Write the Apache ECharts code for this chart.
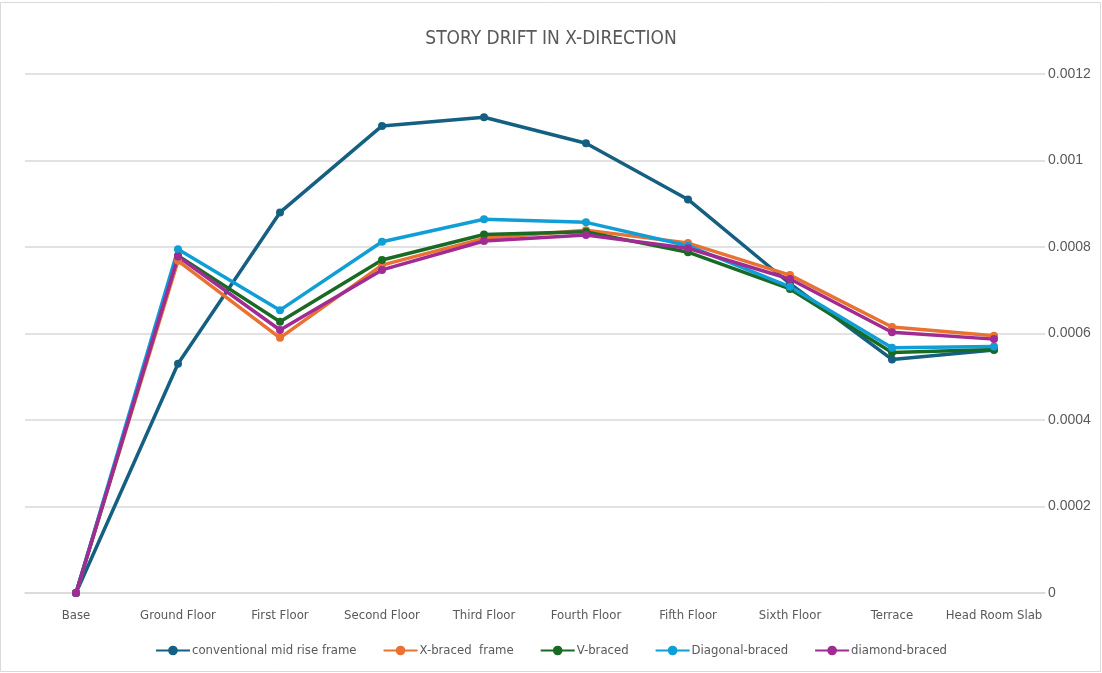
<!DOCTYPE html>
<html>
<head>
<meta charset="utf-8">
<script src="https://cdn.jsdelivr.net/npm/echarts@6/dist/echarts.min.js"></script>
<style>
  html, body { margin: 0; padding: 0; background: #ffffff; }
  #chart { width: 1102px; height: 673px; }
</style>
</head>
<body>
<div id="chart"></div>
<script>
// Story levels along the building height
const floors = ['Base', 'Ground Floor', 'First Floor', 'Second Floor', 'Third Floor',
  'Fourth Floor', 'Fifth Floor', 'Sixth Floor', 'Terrace', 'Head Room Slab'];

// Story drift per level for each framing system
const conventional = [0, 0.00053, 0.00088, 0.00108, 0.0011, 0.00104, 0.00091, 0.000715, 0.00054, 0.000562];
const xBraced      = [0, 0.000768, 0.00059, 0.000758, 0.00082, 0.000839, 0.000809, 0.000735, 0.000615, 0.000595];
const vBraced      = [0, 0.00078, 0.000627, 0.00077, 0.000829, 0.000835, 0.000788, 0.000703, 0.000556, 0.000563];
const diagonal     = [0, 0.000795, 0.000654, 0.000812, 0.000864, 0.000857, 0.000803, 0.000708, 0.000567, 0.00057];
const diamond      = [0, 0.000778, 0.000608, 0.000747, 0.000814, 0.000828, 0.000797, 0.000726, 0.000603, 0.000587];

const yTicks = { min: 0, max: 0.0012, step: 0.0002 };

const FONT = '"Liberation Sans Narrow", "DejaVu Sans Condensed", "Roboto", sans-serif';
const TEXT = '#595959';

function lineSeries(name, data, color) {
  return {
    name: name,
    type: 'line',
    data: data,
    symbol: 'circle',
    symbolSize: 8,
    lineStyle: { width: 3.5, color: color },
    itemStyle: { color: color },
    emphasis: { disabled: true }
  };
}

const chart = echarts.init(document.getElementById('chart'), null, { renderer: 'canvas' });
chart.setOption({
  animation: false,
  backgroundColor: '#ffffff',
  title: {
    text: 'STORY DRIFT IN X-DIRECTION',
    left: 'center',
    top: 25,
    textStyle: { fontFamily: FONT, fontSize: 19, fontWeight: 'normal', color: TEXT }
  },
  graphic: [{
    type: 'rect',
    shape: { x: 0.5, y: 2.5, width: 1100, height: 669 },
    style: { fill: 'none', stroke: '#d9d9d9', lineWidth: 1 },
    silent: true
  }],
  grid: { left: 25, right: 57, top: 74, bottom: 80 },
  legend: {
    bottom: 11,
    left: 'center',
    itemGap: 26,
    itemWidth: 34,
    itemHeight: 12,
    textStyle: { fontFamily: FONT, fontSize: 13, color: TEXT, padding: [0, 0, 0, -3] },
    data: ['conventional mid rise frame', 'X-braced  frame', 'V-braced', 'Diagonal-braced', 'diamond-braced']
  },
  xAxis: {
    type: 'category',
    data: floors,
    boundaryGap: true,
    axisLine: { show: true, lineStyle: { color: '#d9d9d9', width: 1.5 } },
    axisTick: { show: false },
    axisLabel: { fontFamily: FONT, fontSize: 13, color: TEXT, margin: 16, interval: 0 }
  },
  yAxis: {
    type: 'value',
    position: 'right',
    min: yTicks.min,
    max: yTicks.max,
    interval: yTicks.step,
    axisLine: { show: false },
    axisTick: { show: false },
    splitLine: { lineStyle: { color: '#d9d9d9', width: 1.5 } },
    axisLabel: {
      fontFamily: '"Liberation Sans", Arial, sans-serif',
      fontSize: 14,
      color: TEXT,
      margin: 3,
      formatter: v => String(+v.toFixed(4))
    }
  },
  series: [
    lineSeries('conventional mid rise frame', conventional, '#156082'),
    lineSeries('X-braced  frame', xBraced, '#E97132'),
    lineSeries('V-braced', vBraced, '#196B24'),
    lineSeries('Diagonal-braced', diagonal, '#0F9ED5'),
    lineSeries('diamond-braced', diamond, '#A02B93')
  ]
});
</script>
</body>
</html>
